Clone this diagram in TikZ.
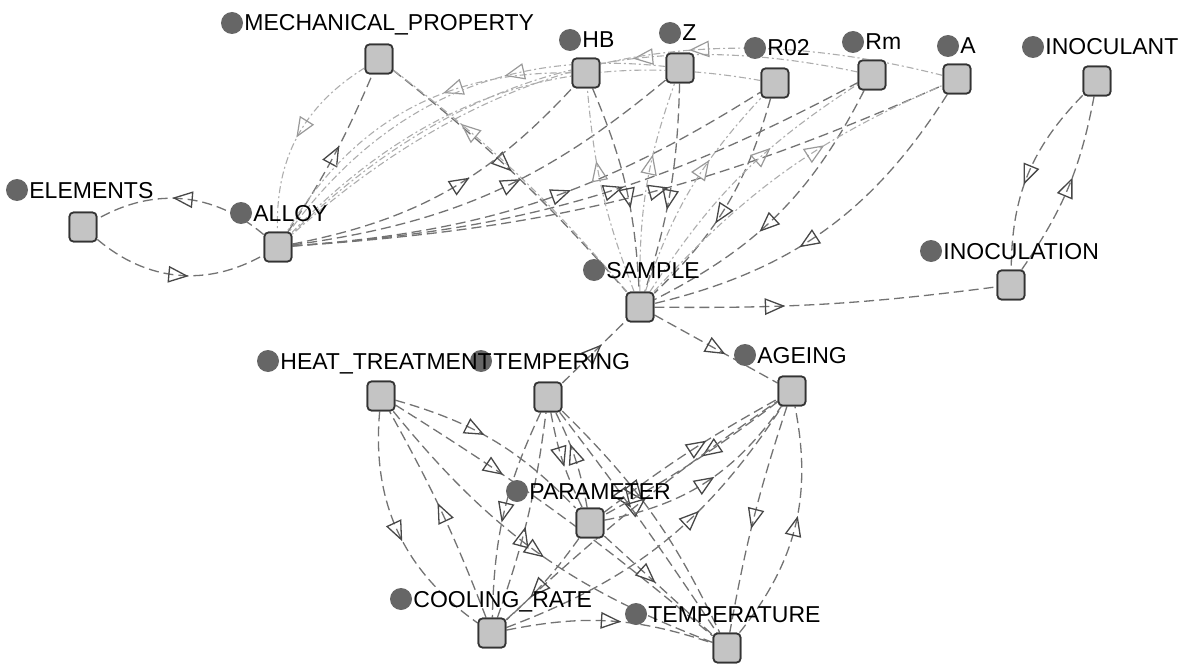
\documentclass[tikz,border=0pt]{standalone}
\usepackage{fontspec}
\newfontfamily\lab{Liberation Sans}
\usetikzlibrary{decorations.markings}
\tikzset{
  sq/.style={draw=black!80, fill=black!23, rounded corners=4pt, minimum width=27pt, minimum height=29pt, line width=1.7pt, inner sep=0pt},
  dotn/.style={circle, fill=black!60, minimum size=22pt, inner sep=0pt},
  lbl/.style={anchor=base west, inner sep=0pt, font=\lab\fontsize{23}{25}\selectfont},
  dk/.style={draw=black!55, line width=1.3pt, dash pattern=on 10pt off 5pt,
    postaction={decorate}, decoration={markings, mark=at position #1 with {\draw[solid, black!72, line width=1.3pt, line join=miter] (-9pt,-7.5pt) -- (9pt,0pt) -- (-9pt,7.5pt) -- cycle;}}},
  dk/.default=0.5,
  lt/.style={draw=black!32, line width=1.1pt, dash pattern=on 7pt off 3pt on 2pt off 3pt,
    postaction={decorate}, decoration={markings, mark=at position #1 with {\draw[solid, black!40, line width=1.2pt, line join=miter] (-9pt,-7.5pt) -- (9pt,0pt) -- (-9pt,7.5pt) -- cycle;}}},
  lt/.default=0.5
}
\begin{document}
\begin{tikzpicture}[x=1pt,y=-1pt]
\useasboundingbox (0,0) rectangle (1189,666);
% squares (named, for connectors)
\node[sq] (mp) at (379,59) {};
\node[sq] (hb) at (586,73) {};
\node[sq] (z) at (680,68) {};
\node[sq] (r02) at (775,83) {};
\node[sq] (rm) at (872,75) {};
\node[sq] (a) at (957,79) {};
\node[sq] (inoc) at (1097,81) {};
\node[sq] (el) at (83,227) {};
\node[sq] (al) at (278,247) {};
\node[sq] (sa) at (640,307) {};
\node[sq] (inol) at (1011,285) {};
\node[sq] (ht) at (381,396) {};
\node[sq] (tp) at (548,397) {};
\node[sq] (ag) at (792,391) {};
\node[sq] (pa) at (590,523) {};
\node[sq] (cr) at (492,633) {};
\node[sq] (te) at (727,648) {};
% edges
\draw[dk] (al) to[bend right=35] (el);
\draw[dk] (el) to[bend right=35] (al);
\draw[lt=0.45] (mp) to[bend right=30] (al);
\draw[dk] (al) to[bend right=5] (mp);
\draw[dk=0.45] (mp) to[bend left=5] (sa);
\draw[lt=0.7] (sa) to[bend right=6] (mp);
\foreach \p/\ba/\bb in {hb/18/30, z/16/30, r02/14/28, rm/12/28, a/10/28}{
  \draw[dk=0.55] (al) to[bend right=\ba] (\p);
  \draw[lt=0.35] (\p) to[bend right=\bb] (al);
}
\foreach \p/\ba/\bb in {hb/10/8, z/8/10, r02/15/12, rm/18/12, a/22/12}{
  \draw[dk=0.55] (\p) to[bend left=\ba] (sa);
  \draw[lt=0.6] (sa) to[bend left=\bb] (\p);
}
\draw[dk=0.35] (sa) to[bend right=4] (inol);
\draw[dk] (inoc) to[bend right=22] (inol);
\draw[dk] (inol) to[bend right=12] (inoc);
\draw[dk] (tp) -- (sa);
\draw[dk] (sa) -- (ag);
% bottom cluster
\draw[dk] (ht) to[bend right=30] (cr);
\draw[dk] (cr) to[bend right=4] (ht);
\draw[dk=0.4] (ht) to[bend left=15] (pa);
\draw[dk=0.5] (ht) to[bend right=15] (te);
\draw[dk=0.3] (ht) to[bend left=4] (te);
\draw[dk] (tp) to[bend right=12] (cr);
\draw[dk=0.4] (cr) to[bend right=6] (tp);
\draw[dk=0.45] (tp) to[bend right=8] (pa);
\draw[dk=0.55] (pa) to[bend right=8] (tp);
\draw[dk=0.4] (tp) to[bend left=10] (te);
\draw[dk=0.4] (tp) to[bend left=2] (te);
\draw[dk=0.4] (pa) -- (te);
\draw[dk=0.4] (ag) to[bend left=4] (pa);
\draw[dk=0.55] (pa) to[bend left=4] (ag);
\draw[dk=0.6] (cr) to[bend right=18] (ag);
\draw[dk=0.5] (cr) to[bend left=4] (ag);
\draw[dk=0.5] (pa) to[bend right=22] (ag);
\draw[dk] (ag) to[bend right=4] (te);
\draw[dk] (te) to[bend right=25] (ag);
\draw[dk] (cr) to[bend left=15] (te);
\draw[dk=0.6] (pa) to[bend left=6] (cr);
% redraw squares on top of the connectors
\foreach \n in {mp,hb,z,r02,rm,a,inoc,el,al,sa,inol,ht,tp,ag,pa,cr,te}{
  \node[sq] at (\n) {};
}
% dots
\foreach \x/\y/\nm in {232/23/mpd, 570/40/hbd, 670/33/zd, 755/48/r02d, 853/42/rmd, 948/46/ad, 1033/47/inocd, 17/190/eld, 241/213/ald, 594/270/sad, 931/251/inold, 268/361/htd, 481/361/tpd, 745/355/agd, 517/491/pad, 401/599/crd, 636/614/ted}{
  \node[dotn] (\nm) at (\x,\y) {};
}
% labels
\foreach \nm/\t in {mpd/MECHANICAL\_PROPERTY, hbd/HB, zd/Z, r02d/R02, rmd/Rm, ad/A, inocd/INOCULANT, eld/ELEMENTS, ald/ALLOY, sad/SAMPLE, inold/INOCULATION, htd/HEAT\_TREATMENT, tpd/TEMPERING, agd/AGEING, pad/PARAMETER, crd/COOLING\_RATE, ted/TEMPERATURE}{
  \node[lbl] (\nm-l) at ([xshift=1pt,yshift=-8pt]\nm.east) {\t};
}
\end{tikzpicture}
\end{document}
